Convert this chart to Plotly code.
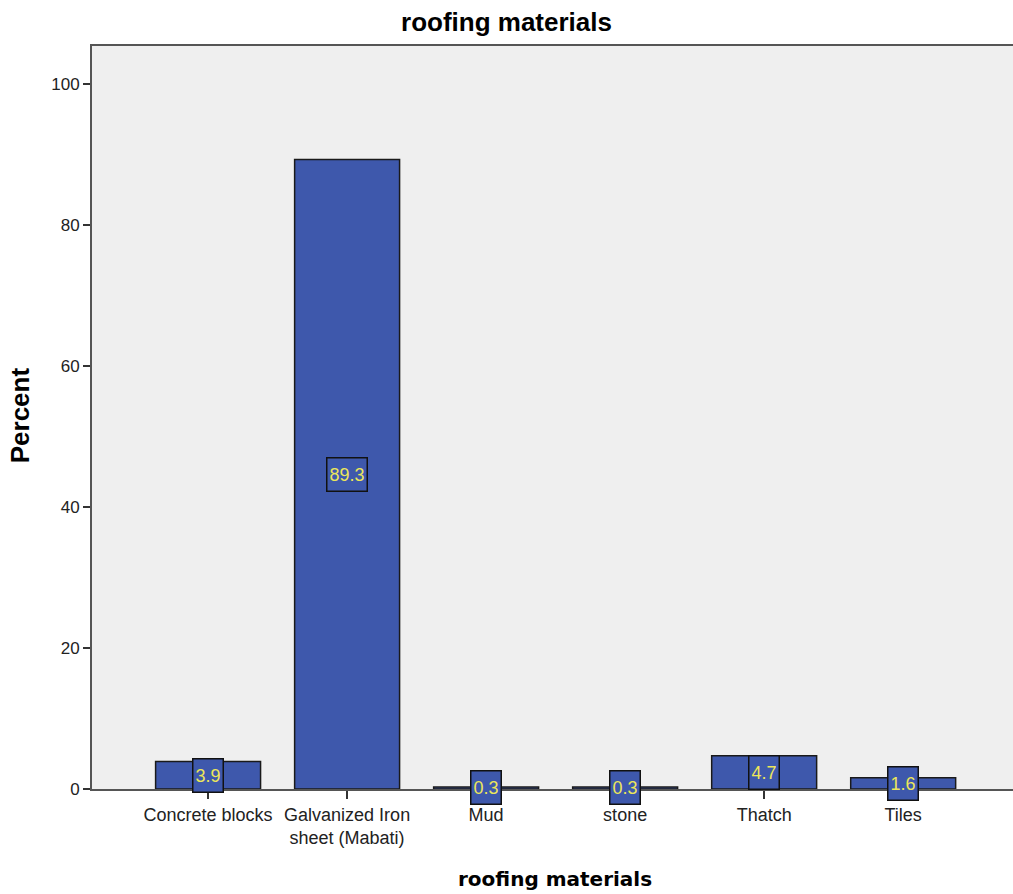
import plotly.graph_objects as go

categories = ["Concrete blocks", "Galvanized Iron<br>sheet (Mabati)", "Mud", "stone", "Thatch", "Tiles"]
percent = [3.9, 89.3, 0.3, 0.3, 4.7, 1.6]
labels = ["3.9", "89.3", "0.3", "0.3", "4.7", "1.6"]
y_ticks = [0, 20, 40, 60, 80, 100]

bar_color = "#3E58AC"
font_family = "Liberation Sans, Arial, sans-serif"

fig = go.Figure()
fig.add_trace(go.Bar(
    x=list(range(len(categories))), y=percent,
    width=0.755,
    marker=dict(color=bar_color, line=dict(color="#1a1a1a", width=1.5)),
    hoverinfo="skip",
))

for i, (v, lab) in enumerate(zip(percent, labels)):
    fig.add_annotation(
        x=i, y=v / 2, xref="x", yref="y", text=lab, showarrow=False,
        font=dict(family=font_family, size=18, color="#ECE65A"),
        bgcolor=bar_color, bordercolor="#111111", borderwidth=1.5, borderpad=2,
        height=28,
    )

# axis titles as annotations for precise placement
fig.add_annotation(
    text="<b>roofing materials</b>", xref="paper", yref="paper", x=0.503, y=0,
    xanchor="center", yanchor="middle", yshift=-90, showarrow=False,
    font=dict(family="DejaVu Sans, Verdana, sans-serif", size=20, color="black"),
)
fig.add_annotation(
    text="<b>Percent</b>", xref="paper", yref="paper", x=0, y=0.503,
    xanchor="center", yanchor="middle", xshift=-72, textangle=-90, showarrow=False,
    font=dict(family=font_family, size=26, color="black"),
)

fig.update_layout(
    width=1013, height=894,
    margin=dict(l=92, r=0, t=46, b=105),
    paper_bgcolor="white", plot_bgcolor="#EFEFEF",
    showlegend=False,
    title=dict(text="<b>roofing materials</b>", x=0.5, xanchor="center", y=0.975, yanchor="middle",
               font=dict(family=font_family, size=26, color="black")),
    font=dict(family=font_family, size=17, color="#222222"),
    bargap=0,
)
fig.update_xaxes(
    tickmode="array", tickvals=list(range(len(categories))), ticktext=categories,
    range=[-0.835, 5.79], showgrid=False, zeroline=False,
    showline=True, linecolor="#555555", linewidth=2, mirror=True,
    ticks="outside", ticklen=8, tickcolor="#333333", tickwidth=1.5,
    tickfont=dict(size=18, color="#222222"),
)
fig.update_yaxes(
    range=[0, 105.4], tickmode="array", tickvals=y_ticks,
    showgrid=False, zeroline=False,
    showline=True, linecolor="#555555", linewidth=2, mirror=False,
    ticks="outside", ticklen=7, tickcolor="#333333", tickwidth=1.5,
    tickfont=dict(size=17, color="#222222"),
)

fig.write_html(
    "out.html",
    config={"displayModeBar": False, "staticPlot": True},
    post_script="document.body.style.margin='0';document.body.style.overflow='hidden';",
)
